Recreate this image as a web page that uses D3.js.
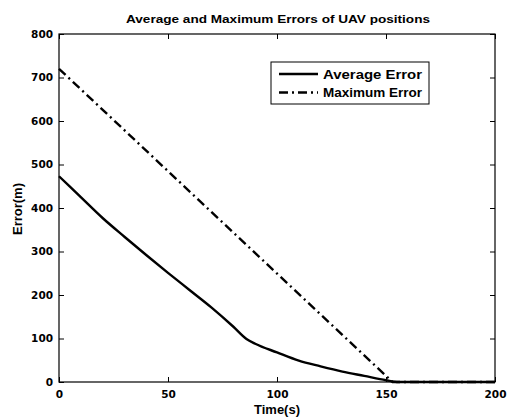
<!DOCTYPE html>
<html>
<head>
<meta charset="utf-8">
<script src="https://cdn.jsdelivr.net/npm/d3@7"></script>
<style>
  body { margin: 0; background: #fff; }
  text { font-family: "Liberation Sans", Arial, sans-serif; font-weight: bold; }
  .tick text { font-family: "DejaVu Sans", sans-serif; }
</style>
</head>
<body>
<div id="chartContainer"></div>
<script>
// data
var avgTime = [0, 10, 20, 30, 40, 50, 60, 70, 80, 86, 90, 100, 110, 120, 130, 140, 150, 155, 200];
var avgError = [473, 425, 377, 334, 292, 251, 211, 171, 127, 99, 88, 68, 49, 36, 24, 14, 4, 0, 0];
var maxTime = [0, 153, 200];
var maxError = [720, 0, 0];
var xTicks = [0, 50, 100, 150, 200];
var yTicks = [0, 100, 200, 300, 400, 500, 600, 700, 800];
var seriesNames = ["Average Error", "Maximum Error"];

var width = 507, height = 419;
var margin = { top: 34, right: 12, bottom: 37, left: 59 };
var w = width - margin.left - margin.right;
var h = height - margin.top - margin.bottom;

var lineStyle = 'fill: none; stroke: #000; stroke-width: 2.4px;';
var dashStyle = 'fill: none; stroke: #000; stroke-width: 2.4px; stroke-dasharray: 9,4,2,4;';

var svg = d3.select("#chartContainer")
    .append("svg")
    .attr("width", width)
    .attr("height", height);

var g = svg.append("g")
    .attr("transform", `translate(${margin.left}, ${margin.top})`);

var x = d3.scaleLinear().domain([0, 200]).range([0, w]);
var y = d3.scaleLinear().domain([0, 800]).range([h, 0]);

// axes with inward ticks on all four sides
function styleAxis(sel) {
    sel.select(".domain").remove();
    sel.selectAll("line").attr("stroke", "#000");
    sel.selectAll("text").attr("font-size", "10.5px").attr("fill", "#000");
}

g.append("g")
    .attr("transform", `translate(0, ${h})`)
    .call(d3.axisBottom(x).tickValues(xTicks).tickSizeInner(-5).tickSizeOuter(0).tickPadding(9))
    .call(styleAxis);
g.append("g")
    .call(d3.axisTop(x).tickValues(xTicks).tickSizeInner(-5).tickSizeOuter(0).tickFormat(""))
    .call(styleAxis);
g.append("g")
    .call(d3.axisLeft(y).tickValues(yTicks).tickSizeInner(-5).tickSizeOuter(0).tickPadding(6))
    .call(styleAxis);
g.append("g")
    .attr("transform", `translate(${w}, 0)`)
    .call(d3.axisRight(y).tickValues(yTicks).tickSizeInner(-5).tickSizeOuter(0).tickFormat(""))
    .call(styleAxis);

g.append("rect")
    .attr("width", w)
    .attr("height", h)
    .attr("fill", "none")
    .attr("stroke", "#000")
    .attr("stroke-width", 1.2);

var avgLine = d3.line()
    .x(function (d, i) { return x(avgTime[i]) })
    .y(function (d) { return y(d) })
    .curve(d3.curveMonotoneX);

var maxLine = d3.line()
    .x(function (d, i) { return x(maxTime[i]) })
    .y(function (d) { return y(d) });

g.append("path")
    .datum(avgError)
    .attr("style", lineStyle)
    .attr("d", avgLine);

g.append("path")
    .datum(maxError)
    .attr("style", dashStyle)
    .attr("d", maxLine);

// title and axis labels
svg.append("text")
    .attr("x", 126)
    .attr("y", 23)
    .attr("font-size", "11.5px")
    .attr("textLength", 304)
    .attr("lengthAdjust", "spacingAndGlyphs")
    .text("Average and Maximum Errors of UAV positions");

svg.append("text")
    .attr("x", 277)
    .attr("y", 414)
    .attr("text-anchor", "middle")
    .attr("font-size", "13px")
    .text("Time(s)");

svg.append("text")
    .attr("transform", `translate(22, ${margin.top + h / 2 + 1}) rotate(-90)`)
    .attr("text-anchor", "middle")
    .attr("font-size", "13px")
    .text("Error(m)");

// legend
var legend = svg.append("g").attr("transform", "translate(271, 62)");
legend.append("rect")
    .attr("width", 158)
    .attr("height", 42)
    .attr("fill", "#fff")
    .attr("stroke", "#000")
    .attr("stroke-width", 1);

seriesNames.forEach(function (name, i) {
    var yy = 12 + i * 18.5;
    legend.append("line")
        .attr("x1", 8).attr("x2", 47)
        .attr("y1", yy).attr("y2", yy)
        .attr("style", i == 0 ? lineStyle : dashStyle);
    legend.append("text")
        .attr("x", 52)
        .attr("y", yy + 4.5)
        .attr("font-size", "12px")
        .attr("textLength", 99)
        .attr("lengthAdjust", "spacingAndGlyphs")
        .text(name);
});
</script>
</body>
</html>
